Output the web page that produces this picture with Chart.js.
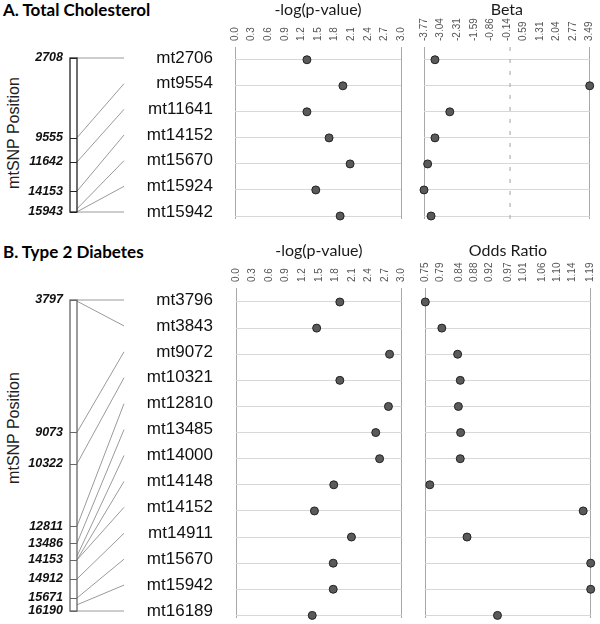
<!DOCTYPE html>
<html>
<head>
<meta charset="utf-8">
<script src="https://cdn.jsdelivr.net/npm/chart.js@4.4.1/dist/chart.umd.min.js"></script>
<style>
  body { margin: 0; background: #fff; width: 600px; height: 624px; position: relative; overflow: hidden; font-family: "Liberation Sans", Arial, sans-serif; }
  canvas { position: absolute; }
  .panel-title { position: absolute; left: 3px; font-family: Lato, "Open Sans", sans-serif; font-weight: bold; font-size: 17px; color: #000; line-height: 20px; white-space: nowrap; }
  .ylab { position: absolute; width: 130px; height: 20px; line-height: 20px; text-align: center; font-size: 16px; color: #222; transform: rotate(-90deg); white-space: nowrap; }
</style>
</head>
<body>
<div class="panel-title" style="top:0px">A. Total Cholesterol</div>
<div class="panel-title" style="top:242px">B. Type 2 Diabetes</div>
<div class="ylab" style="left:-51px; top:123px">mtSNP Position</div>
<div class="ylab" style="left:-51px; top:418px">mtSNP Position</div>

<canvas id="diagA" width="220" height="230" style="left:0;top:0"></canvas>
<canvas id="logA" width="190" height="230" style="left:220px;top:0"></canvas>
<canvas id="betaA" width="190" height="230" style="left:410px;top:0"></canvas>
<canvas id="diagB" width="220" height="383" style="left:0;top:241px"></canvas>
<canvas id="logB" width="190" height="383" style="left:220px;top:241px"></canvas>
<canvas id="orB" width="190" height="383" style="left:410px;top:241px"></canvas>

<script>
// ---- A. Total Cholesterol ----
const snpA = ["mt2706", "mt9554", "mt11641", "mt14152", "mt15670", "mt15924", "mt15942"];
const startA = [2708, 9555, 11642, 14153, 15671, 15925, 15943];
const posTicksA = [2708, 9555, 11642, 14153, 15943];
const logpA = [1.30, 1.95, 1.30, 1.70, 2.08, 1.46, 1.90];
const betaA = [-3.29, 3.49, -2.64, -3.29, -3.61, -3.77, -3.46];

// ---- B. Type 2 Diabetes ----
const snpB = ["mt3796", "mt3843", "mt9072", "mt10321", "mt12810", "mt13485", "mt14000",
  "mt14148", "mt14152", "mt14911", "mt15670", "mt15942", "mt16189"];
const startB = [3797, 3844, 9073, 10322, 12811, 13486, 14001, 14149, 14153, 14912, 15671, 15943, 16190];
const posTicksB = [3797, 9073, 10322, 12811, 13486, 14153, 14912, 15671, 16190];
const logpB = [1.88, 1.46, 2.78, 1.88, 2.76, 2.53, 2.60, 1.77, 1.42, 2.09, 1.76, 1.76, 1.38];
const orB = [0.75, 0.794, 0.836, 0.843, 0.838, 0.844, 0.843, 0.762, 1.17, 0.861, 1.19, 1.19, 0.942];

// tick labels
const logTicks = ["0.0", "0.3", "0.6", "0.9", "1.2", "1.5", "1.8", "2.1", "2.4", "2.7", "3.0"];
const betaTicks = ["-3.77", "-3.04", "-2.31", "-1.59", "-0.86", "-0.14", "0.59", "1.31", "2.04", "2.77", "3.49"];
const orTicks = ["0.75", "0.79", "0.84", "0.88", "0.92", "0.97", "1.01", "1.06", "1.10", "1.14", "1.19"];

const SANS = "'Liberation Sans', Arial, sans-serif";
const TITLE_FONT = "Lato, 'Open Sans', sans-serif";
const NONE = "rgba(0,0,0,0)";

function diagram(id, snps, starts, ticks, pad, barColor) {
  new Chart(document.getElementById(id), {
    type: "scatter",
    data: { datasets: [] },
    options: {
      responsive: false,
      animation: false,
      layout: { padding: pad },
      plugins: { legend: { display: false }, tooltip: { enabled: false } },
      scales: {
        x: { type: "linear", display: false, min: 0, max: 1 },
        pos: {
          type: "linear", position: "left", reverse: true,
          min: ticks[0], max: ticks[ticks.length - 1],
          afterBuildTicks: (s) => { s.ticks = ticks.map((v) => ({ value: v })); },
          afterFit: (s) => { s.width = 70; },
          // tick length used as spacing only (keeps layout padding small)
          grid: { display: false, drawTicks: true, tickLength: 7 },
          border: { display: false },
          ticks: {
            padding: 0, color: "#111", autoSkip: false,
            font: { family: SANS, size: 12.5, style: "italic", weight: "bold" },
            callback: (v) => String(v),
          },
        },
        row: {
          type: "linear", position: "right", reverse: true,
          min: 0, max: snps.length - 1,
          afterBuildTicks: (s) => { s.ticks = snps.map((_, i) => ({ value: i })); },
          afterFit: (s) => { s.width = 89; },
          grid: { display: false, drawTicks: true, tickLength: 23 },
          border: { display: false },
          ticks: {
            padding: 0, crossAlign: "far", color: "#111", autoSkip: false,
            font: { family: SANS, size: 17 },
            callback: (v) => snps[v],
          },
        },
      },
    },
    plugins: [{
      id: "links",
      afterDraw(chart) {
        const { ctx, chartArea: a, scales } = chart;
        const pos = scales.pos, row = scales.row;
        const bw = 7;
        ctx.save();
        // connector lines: position on the bar -> snp row
        ctx.strokeStyle = "#9a9a9a";
        ctx.lineWidth = 1;
        starts.forEach((p, i) => {
          ctx.beginPath();
          ctx.moveTo(a.left + bw, pos.getPixelForValue(p));
          ctx.lineTo(a.right, row.getPixelForValue(i));
          ctx.stroke();
        });
        // the double-line bar with position marks
        ctx.strokeStyle = barColor;
        ctx.lineWidth = 1.3;
        const top = pos.getPixelForValue(ticks[0]);
        const bot = pos.getPixelForValue(ticks[ticks.length - 1]);
        ctx.strokeRect(a.left, top, bw, bot - top);
        ctx.lineWidth = 1;
        ticks.forEach((t) => {
          const y = Math.round(pos.getPixelForValue(t)) + 0.5;
          ctx.beginPath();
          ctx.moveTo(a.left, y);
          ctx.lineTo(a.left + bw, y);
          ctx.stroke();
        });
        ctx.restore();
      },
    }],
  });
}

function dotPlot(id, title, values, tickLabels, yMin, yMax, pad, zeroLine) {
  const tv = tickLabels.map((t) => parseFloat(t));
  const n = tv.length;
  const datasets = [{
    data: values.map((v, i) => ({ x: v, y: i })),
    pointRadius: 4,
    pointBackgroundColor: "#5a5a5a",
    pointBorderColor: "#222",
    pointBorderWidth: 1,
    showLine: false,
    clip: false,
  }];
  if (zeroLine) {
    datasets.push({
      type: "line",
      data: [{ x: 0, y: yMin }, { x: 0, y: yMax }],
      borderColor: "#a0a0a0",
      borderWidth: 1,
      borderDash: [4, 8],
      pointRadius: 0,
    });
  }
  new Chart(document.getElementById(id), {
    type: "scatter",
    data: { datasets },
    options: {
      responsive: false,
      animation: false,
      layout: { padding: { ...pad, top: 2 } },
      plugins: {
        legend: { display: false },
        tooltip: { enabled: false },
        title: {
          display: true, text: title, fullSize: false, color: "#1a1a1a",
          padding: { top: 0, bottom: 0 },
          font: { family: TITLE_FONT, size: 16, weight: "normal", lineHeight: 1 },
        },
      },
      scales: {
        x: {
          type: "linear", position: "top", min: tv[0], max: tv[n - 1],
          afterBuildTicks: (s) => { s.ticks = tv.map((v) => ({ value: v })); },
          afterFit: (s) => { s.height = 29; },
          grid: {
            drawTicks: true, tickLength: 6, tickColor: NONE,
            color: (c) => (c.index === 0 || c.index === n - 1) ? "#a8a8a8" : NONE,
          },
          border: { display: false },
          ticks: {
            minRotation: 90, maxRotation: 90, autoSkip: false, padding: 0,
            labelOffset: 12,
            color: "#555", font: { family: SANS, size: 10 },
            callback: (v, i) => tickLabels[i],
          },
        },
        y: {
          type: "linear", reverse: true, min: yMin, max: yMax,
          afterBuildTicks: (s) => { s.ticks = values.map((_, i) => ({ value: i })); },
          afterFit: (s) => { s.width = 0; },
          ticks: { display: false },
          grid: { color: "#d8d8d8", drawTicks: false },
          border: { display: false },
        },
      },
    },
  });
}

diagram("diagA", snpA, startA, posTicksA, { left: 0, top: 58, bottom: 18, right: 7 }, "#222");
dotPlot("logA", "-log(p-value)", logpA, logTicks, -0.49, 6.115, { left: 15, right: 9, bottom: 11 }, false);
dotPlot("betaA", "Beta", betaA, betaTicks, -0.49, 6.115, { left: 14, right: 10.3, bottom: 11 }, true);

diagram("diagB", snpB, startB, posTicksB, { left: 0, top: 59, bottom: 13, right: 7 }, "#666");
dotPlot("logB", "-log(p-value)", logpB, logTicks, -0.536, 12.1, { left: 16, right: 8.3, bottom: 6 }, false);
dotPlot("orB", "Odds Ratio", orB, orTicks, -0.536, 12.1, { left: 15.3, right: 9.3, bottom: 6 }, false);
</script>
</body>
</html>
